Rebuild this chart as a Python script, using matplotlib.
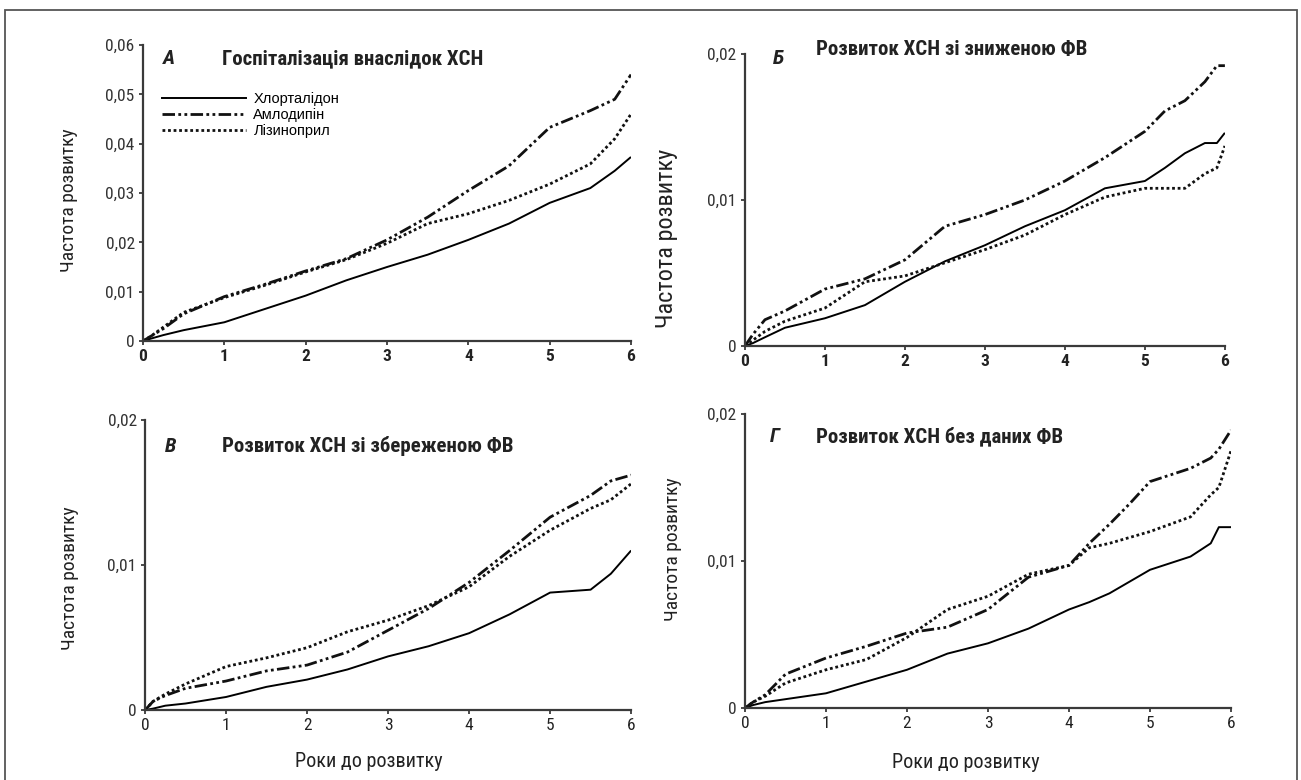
import matplotlib
matplotlib.use("Agg")
import matplotlib.pyplot as plt
from matplotlib import font_manager
from matplotlib.lines import Line2D
from matplotlib.patches import Rectangle
from matplotlib.ticker import FuncFormatter

# cumulative incidence by years of follow-up, three treatment arms per panel
years_a = [0, 0.1, 0.25, 0.5, 1, 1.5, 2, 2.5, 3, 3.5, 4, 4.5, 5, 5.5, 5.8, 6]
chlor_a = [0, 0.0005, 0.0012, 0.0022, 0.0038, 0.0065, 0.0092, 0.0123, 0.015, 0.0175,
           0.0205, 0.0238, 0.028, 0.031, 0.0345, 0.0373]
amlo_a = [0, 0.001, 0.0025, 0.0055, 0.009, 0.0115, 0.0142, 0.0167, 0.0205, 0.0251,
          0.0305, 0.0355, 0.0433, 0.0467, 0.049, 0.054]
lisin_a = [0, 0.001, 0.0028, 0.0058, 0.0088, 0.0113, 0.014, 0.0165, 0.0198, 0.0238,
           0.0258, 0.0285, 0.0318, 0.0359, 0.041, 0.046]

years_b = [0, 0.1, 0.25, 0.5, 1, 1.5, 2, 2.5, 3, 3.5, 4, 4.5, 5, 5.25, 5.5, 5.75, 5.9, 6]
chlor_b = [0, 0.0002, 0.0006, 0.00125, 0.0019, 0.0028, 0.0044, 0.0058, 0.0069, 0.0082,
           0.0093, 0.0108, 0.0113, 0.0122, 0.0132, 0.0139, 0.0139, 0.0146]
amlo_b = [0, 0.0008, 0.0018, 0.0024, 0.0039, 0.0046, 0.0059, 0.0082, 0.009, 0.01,
          0.0113, 0.0129, 0.0147, 0.0161, 0.0168, 0.0181, 0.0192, 0.0192]
lisin_b = [0, 0.0004, 0.001, 0.0017, 0.0026, 0.0044, 0.0048, 0.0057, 0.0066, 0.0076,
           0.009, 0.0102, 0.0108, 0.0108, 0.0108, 0.0118, 0.0122, 0.0137]

years_c = [0, 0.1, 0.25, 0.5, 1, 1.5, 2, 2.5, 3, 3.5, 4, 4.5, 5, 5.5, 5.75, 6]
chlor_c = [0, 0.0001, 0.0003, 0.00045, 0.0009, 0.0016, 0.0021, 0.0028, 0.0037, 0.0044,
           0.0053, 0.0066, 0.0081, 0.0083, 0.0094, 0.011]
amlo_c = [0, 0.0006, 0.001, 0.0015, 0.002, 0.0027, 0.0031, 0.004, 0.0055, 0.007,
          0.0088, 0.011, 0.0133, 0.0148, 0.0158, 0.0162]
lisin_c = [0, 0.0006, 0.0011, 0.0018, 0.003, 0.0036, 0.0043, 0.0054, 0.0062, 0.0072,
           0.0085, 0.0106, 0.0124, 0.0139, 0.0145, 0.0156]

years_d = [0, 0.1, 0.25, 0.5, 1, 1.5, 2, 2.5, 3, 3.5, 4, 4.25, 4.5, 4.75, 5, 5.5, 5.75, 5.85, 6]
chlor_d = [0, 0.0002, 0.0004, 0.0006, 0.001, 0.0018, 0.0026, 0.0037, 0.0044, 0.0054,
           0.0067, 0.0072, 0.0078, 0.0086, 0.0094, 0.0103, 0.0112, 0.0123, 0.0123]
amlo_d = [0, 0.0004, 0.0009, 0.0023, 0.0034, 0.0042, 0.0051, 0.0055, 0.0067, 0.0089,
          0.0097, 0.0112, 0.0125, 0.0139, 0.0154, 0.0163, 0.017, 0.0176, 0.0189]
lisin_d = [0, 0.0004, 0.0008, 0.0017, 0.0026, 0.0033, 0.0048, 0.0067, 0.0076, 0.0091,
           0.0097, 0.0109, 0.0112, 0.0116, 0.012, 0.013, 0.0145, 0.015, 0.0175]

drug_names = ["Хлорталідон", "Амлодипін", "Лізиноприл"]
panel_letters = ["А", "Б", "В", "Г"]
panel_titles = ["Госпіталізація внаслідок ХСН", "Розвиток ХСН зі зниженою ФВ",
                "Розвиток ХСН зі збереженою ФВ", "Розвиток ХСН без даних ФВ"]
y_ticks_a = [0, 0.01, 0.02, 0.03, 0.04, 0.05, 0.06]
y_ticks_small = [0, 0.01, 0.02]
x_ticks = [0, 1, 2, 3, 4, 5, 6]
y_label = "Частота розвитку"
x_label = "Роки до розвитку"


def first_font(*names):
    have = {f.name for f in font_manager.fontManager.ttflist}
    for n in names:
        if n in have:
            return n
    return "DejaVu Sans"


NARROW = first_font("Liberation Sans Narrow", "Roboto Condensed", "Liberation Sans")
PLAIN = first_font("Liberation Sans", "Arial", "DejaVu Sans")

styles = [
    dict(color="black", linewidth=1.4, linestyle="-"),
    dict(color="#111111", linewidth=2.0, linestyle=(0, (4.5, 1.2, 1.0, 1.2, 1.0, 1.2))),
    dict(color="#111111", linewidth=2.0, linestyle=(0, (1, 1))),
]


def comma_fmt(v, pos):
    if abs(v) < 1e-12:
        return "0"
    return f"{v:.2f}".replace(".", ",")


fig = plt.figure(figsize=(13.01, 7.8), dpi=100)

# outer frame, open at the bottom
fig.patches.append(Rectangle((5 / 1301, -0.05), 1292 / 1301, 1.05 - 10 / 780,
                             transform=fig.transFigure, fill=False,
                             edgecolor="#555555", linewidth=1.3))

panels = [
    dict(rect=[0.1099, 0.5628, 0.3751, 0.3795], x=years_a, series=[chlor_a, amlo_a, lisin_a],
         ymax=0.06, yticks=y_ticks_a, bold_x=True,
         letter=(0.040, 0.953), title=(0.161, 0.953), ylab=(-0.134, 0.475, 14), xlab=None),
    dict(rect=[0.5726, 0.5564, 0.3689, 0.3744], x=years_b, series=[chlor_b, amlo_b, lisin_b],
         ymax=0.02, yticks=y_ticks_small, bold_x=True,
         letter=(0.058, 0.986), title=(0.147, 1.015), ylab=(-0.1385, 0.368, 17.5), xlab=None),
    dict(rect=[0.1115, 0.0897, 0.3736, 0.3718], x=years_c, series=[chlor_c, amlo_c, lisin_c],
         ymax=0.02, yticks=y_ticks_small, bold_x=False,
         letter=(0.040, 0.910), title=(0.158, 0.910), ylab=(-0.1365, 0.455, 14), xlab=(0.461, -0.146)),
    dict(rect=[0.5726, 0.0923, 0.3736, 0.3770], x=years_d, series=[chlor_d, amlo_d, lisin_d],
         ymax=0.02, yticks=y_ticks_small, bold_x=False,
         letter=(0.052, 0.924), title=(0.146, 0.924), ylab=(-0.129, 0.541, 14), xlab=(0.455, -0.152)),
]

for i, p in enumerate(panels):
    ax = fig.add_axes(p["rect"])
    for ys, st in zip(p["series"], styles):
        ax.plot(p["x"], ys, solid_capstyle="butt", dash_capstyle="butt", **st)

    ax.set_xlim(0, 6)
    ax.set_ylim(0, p["ymax"])
    ax.set_xticks(x_ticks)
    ax.set_yticks(p["yticks"])
    ax.yaxis.set_major_formatter(FuncFormatter(comma_fmt))
    for side in ("top", "right"):
        ax.spines[side].set_visible(False)
    for side in ("left", "bottom"):
        ax.spines[side].set_linewidth(1.6)
        ax.spines[side].set_color("#3a3a3a")
    ax.tick_params(direction="out", length=3, width=1.3, color="#3a3a3a", pad=3)
    for lab in ax.get_yticklabels():
        lab.set_fontfamily(NARROW)
        lab.set_fontsize(12.5)
        lab.set_color("#333333")
    for lab in ax.get_xticklabels():
        lab.set_fontfamily(NARROW)
        lab.set_fontsize(12.5)
        lab.set_color("#222222")
        if p["bold_x"]:
            lab.set_fontweight("bold")

    lx, ly, lsize = p["ylab"]
    ax.set_ylabel(y_label, fontfamily=NARROW, fontsize=lsize, color="#222222")
    ax.yaxis.set_label_coords(lx, ly)
    if p["xlab"] is not None:
        ax.set_xlabel(x_label, fontfamily=NARROW, fontsize=14.5, color="#222222")
        ax.xaxis.set_label_coords(*p["xlab"])

    ax.text(*p["letter"], panel_letters[i], transform=ax.transAxes, fontfamily=NARROW,
            fontsize=15, fontweight="bold", fontstyle="italic", va="center", ha="left",
            color="#222222")
    ax.text(*p["title"], panel_titles[i], transform=ax.transAxes, fontfamily=NARROW,
            fontsize=15, fontweight="bold", va="center", ha="left", color="#222222")

    if i == 0:
        handles = [Line2D([], [], **st) for st in styles]
        ax.legend(handles, drug_names, loc="upper left", bbox_to_anchor=(0.038, 0.84),
                  frameon=False, handlelength=5.8, handletextpad=0.5, labelspacing=0.12,
                  borderpad=0, borderaxespad=0,
                  prop=dict(family=PLAIN, size=10.5))

fig.savefig("out.png", dpi=100)
